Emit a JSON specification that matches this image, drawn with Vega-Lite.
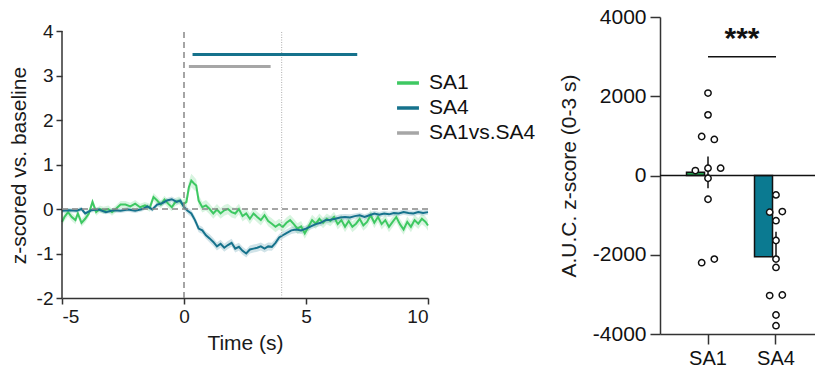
{
  "$schema": "https://vega.github.io/schema/vega-lite/v6.json",
  "background": "white",
  "padding": {"left": 8, "top": 6, "right": 0, "bottom": 0},
  "spacing": 126,
  "config": {
    "font": "Liberation Sans",
    "view": {"stroke": null},
    "axis": {
      "grid": false, "labelFont": "Liberation Sans", "titleFont": "Liberation Sans",
      "labelColor": "#1a1a1a", "titleColor": "#1a1a1a", "domainColor": "#333", "tickColor": "#333",
      "titleFontWeight": "normal", "domainWidth": 1.5, "tickWidth": 1.5,
      "labelExpr": "datum.value + ''"
    },
    "legend": {"labelFont": "Liberation Sans"}
  },
  "datasets": {
    "ts": [
      {"t": -5, "g": "SA1", "m": -0.29, "e": 0.09}, {"t": -4.9, "g": "SA1", "m": -0.18, "e": 0.09}, {"t": -4.75, "g": "SA1", "m": -0.07, "e": 0.09},
      {"t": -4.6, "g": "SA1", "m": -0.18, "e": 0.09}, {"t": -4.45, "g": "SA1", "m": -0.25, "e": 0.09}, {"t": -4.35, "g": "SA1", "m": -0.1, "e": 0.09},
      {"t": -4.2, "g": "SA1", "m": -0.31, "e": 0.09}, {"t": -4.05, "g": "SA1", "m": -0.22, "e": 0.09}, {"t": -3.9, "g": "SA1", "m": -0.1, "e": 0.08},
      {"t": -3.75, "g": "SA1", "m": 0.16, "e": 0.08}, {"t": -3.6, "g": "SA1", "m": -0.07, "e": 0.08}, {"t": -3.45, "g": "SA1", "m": 0.0, "e": 0.08},
      {"t": -3.3, "g": "SA1", "m": -0.03, "e": 0.08}, {"t": -3.1, "g": "SA1", "m": 0.0, "e": 0.08}, {"t": -2.95, "g": "SA1", "m": -0.07, "e": 0.08},
      {"t": -2.8, "g": "SA1", "m": 0.0, "e": 0.08}, {"t": -2.6, "g": "SA1", "m": 0.1, "e": 0.08}, {"t": -2.4, "g": "SA1", "m": 0.1, "e": 0.08},
      {"t": -2.2, "g": "SA1", "m": 0.06, "e": 0.08}, {"t": -2.0, "g": "SA1", "m": 0.12, "e": 0.08}, {"t": -1.8, "g": "SA1", "m": 0.04, "e": 0.08},
      {"t": -1.6, "g": "SA1", "m": 0.08, "e": 0.08}, {"t": -1.4, "g": "SA1", "m": 0.03, "e": 0.09}, {"t": -1.25, "g": "SA1", "m": 0.27, "e": 0.09},
      {"t": -1.1, "g": "SA1", "m": 0.19, "e": 0.09}, {"t": -0.95, "g": "SA1", "m": 0.1, "e": 0.09}, {"t": -0.8, "g": "SA1", "m": 0.21, "e": 0.09},
      {"t": -0.65, "g": "SA1", "m": 0.12, "e": 0.09}, {"t": -0.5, "g": "SA1", "m": 0.04, "e": 0.09}, {"t": -0.35, "g": "SA1", "m": 0.16, "e": 0.09},
      {"t": -0.2, "g": "SA1", "m": 0.19, "e": 0.09}, {"t": -0.05, "g": "SA1", "m": 0.1, "e": 0.1}, {"t": 0.1, "g": "SA1", "m": 0.16, "e": 0.12},
      {"t": 0.2, "g": "SA1", "m": 0.49, "e": 0.14}, {"t": 0.3, "g": "SA1", "m": 0.64, "e": 0.15}, {"t": 0.4, "g": "SA1", "m": 0.58, "e": 0.15},
      {"t": 0.5, "g": "SA1", "m": 0.53, "e": 0.14}, {"t": 0.6, "g": "SA1", "m": 0.19, "e": 0.13}, {"t": 0.75, "g": "SA1", "m": 0.04, "e": 0.12},
      {"t": 0.9, "g": "SA1", "m": 0.08, "e": 0.12}, {"t": 1.05, "g": "SA1", "m": 0.0, "e": 0.12}, {"t": 1.2, "g": "SA1", "m": -0.1, "e": 0.12},
      {"t": 1.35, "g": "SA1", "m": -0.01, "e": 0.12}, {"t": 1.5, "g": "SA1", "m": -0.1, "e": 0.12}, {"t": 1.65, "g": "SA1", "m": -0.03, "e": 0.12},
      {"t": 1.8, "g": "SA1", "m": 0.0, "e": 0.12}, {"t": 1.95, "g": "SA1", "m": -0.07, "e": 0.12}, {"t": 2.1, "g": "SA1", "m": -0.1, "e": 0.12},
      {"t": 2.25, "g": "SA1", "m": 0.0, "e": 0.12}, {"t": 2.4, "g": "SA1", "m": -0.16, "e": 0.12}, {"t": 2.55, "g": "SA1", "m": -0.1, "e": 0.12},
      {"t": 2.7, "g": "SA1", "m": -0.22, "e": 0.12}, {"t": 2.85, "g": "SA1", "m": -0.1, "e": 0.12}, {"t": 3.0, "g": "SA1", "m": -0.18, "e": 0.12},
      {"t": 3.15, "g": "SA1", "m": -0.25, "e": 0.12}, {"t": 3.3, "g": "SA1", "m": -0.14, "e": 0.12}, {"t": 3.45, "g": "SA1", "m": -0.27, "e": 0.12},
      {"t": 3.6, "g": "SA1", "m": -0.33, "e": 0.12}, {"t": 3.75, "g": "SA1", "m": -0.4, "e": 0.12}, {"t": 3.9, "g": "SA1", "m": -0.34, "e": 0.12},
      {"t": 4.05, "g": "SA1", "m": -0.4, "e": 0.12}, {"t": 4.2, "g": "SA1", "m": -0.31, "e": 0.12}, {"t": 4.35, "g": "SA1", "m": -0.25, "e": 0.12},
      {"t": 4.5, "g": "SA1", "m": -0.34, "e": 0.12}, {"t": 4.65, "g": "SA1", "m": -0.44, "e": 0.12}, {"t": 4.8, "g": "SA1", "m": -0.39, "e": 0.12},
      {"t": 4.95, "g": "SA1", "m": -0.55, "e": 0.12}, {"t": 5.1, "g": "SA1", "m": -0.4, "e": 0.12}, {"t": 5.25, "g": "SA1", "m": -0.25, "e": 0.12},
      {"t": 5.4, "g": "SA1", "m": -0.33, "e": 0.12}, {"t": 5.55, "g": "SA1", "m": -0.22, "e": 0.12}, {"t": 5.7, "g": "SA1", "m": -0.31, "e": 0.12},
      {"t": 5.85, "g": "SA1", "m": -0.22, "e": 0.12}, {"t": 6.0, "g": "SA1", "m": -0.27, "e": 0.12}, {"t": 6.15, "g": "SA1", "m": -0.18, "e": 0.12},
      {"t": 6.3, "g": "SA1", "m": -0.34, "e": 0.12}, {"t": 6.45, "g": "SA1", "m": -0.25, "e": 0.12}, {"t": 6.6, "g": "SA1", "m": -0.4, "e": 0.12},
      {"t": 6.75, "g": "SA1", "m": -0.27, "e": 0.12}, {"t": 6.9, "g": "SA1", "m": -0.4, "e": 0.12}, {"t": 7.05, "g": "SA1", "m": -0.33, "e": 0.12},
      {"t": 7.2, "g": "SA1", "m": -0.22, "e": 0.12}, {"t": 7.35, "g": "SA1", "m": -0.37, "e": 0.12}, {"t": 7.5, "g": "SA1", "m": -0.29, "e": 0.12},
      {"t": 7.65, "g": "SA1", "m": -0.14, "e": 0.12}, {"t": 7.8, "g": "SA1", "m": -0.31, "e": 0.12}, {"t": 7.95, "g": "SA1", "m": -0.18, "e": 0.12},
      {"t": 8.1, "g": "SA1", "m": -0.34, "e": 0.12}, {"t": 8.25, "g": "SA1", "m": -0.25, "e": 0.12}, {"t": 8.4, "g": "SA1", "m": -0.4, "e": 0.12},
      {"t": 8.55, "g": "SA1", "m": -0.29, "e": 0.12}, {"t": 8.7, "g": "SA1", "m": -0.18, "e": 0.12}, {"t": 8.85, "g": "SA1", "m": -0.34, "e": 0.12},
      {"t": 9.0, "g": "SA1", "m": -0.46, "e": 0.12}, {"t": 9.15, "g": "SA1", "m": -0.29, "e": 0.12}, {"t": 9.3, "g": "SA1", "m": -0.4, "e": 0.12},
      {"t": 9.45, "g": "SA1", "m": -0.25, "e": 0.12}, {"t": 9.6, "g": "SA1", "m": -0.33, "e": 0.12}, {"t": 9.75, "g": "SA1", "m": -0.22, "e": 0.12},
      {"t": 9.9, "g": "SA1", "m": -0.29, "e": 0.12}, {"t": 10, "g": "SA1", "m": -0.37, "e": 0.12},
      {"t": -5, "g": "SA4", "m": -0.04, "e": 0.05}, {"t": -4.7, "g": "SA4", "m": -0.03, "e": 0.05}, {"t": -4.4, "g": "SA4", "m": -0.04, "e": 0.05},
      {"t": -4.2, "g": "SA4", "m": 0.0, "e": 0.05}, {"t": -4.05, "g": "SA4", "m": -0.1, "e": 0.05}, {"t": -3.8, "g": "SA4", "m": -0.03, "e": 0.05},
      {"t": -3.5, "g": "SA4", "m": -0.01, "e": 0.05}, {"t": -3.2, "g": "SA4", "m": -0.07, "e": 0.05}, {"t": -2.9, "g": "SA4", "m": -0.03, "e": 0.05},
      {"t": -2.6, "g": "SA4", "m": -0.04, "e": 0.05}, {"t": -2.3, "g": "SA4", "m": -0.01, "e": 0.05}, {"t": -2.0, "g": "SA4", "m": -0.04, "e": 0.05},
      {"t": -1.7, "g": "SA4", "m": 0.0, "e": 0.05}, {"t": -1.5, "g": "SA4", "m": 0.06, "e": 0.05}, {"t": -1.3, "g": "SA4", "m": -0.01, "e": 0.05},
      {"t": -1.1, "g": "SA4", "m": 0.1, "e": 0.06}, {"t": -0.9, "g": "SA4", "m": 0.13, "e": 0.06}, {"t": -0.7, "g": "SA4", "m": 0.19, "e": 0.06},
      {"t": -0.5, "g": "SA4", "m": 0.22, "e": 0.06}, {"t": -0.3, "g": "SA4", "m": 0.16, "e": 0.06}, {"t": -0.15, "g": "SA4", "m": 0.19, "e": 0.06},
      {"t": 0.0, "g": "SA4", "m": 0.04, "e": 0.07}, {"t": 0.15, "g": "SA4", "m": -0.04, "e": 0.07}, {"t": 0.3, "g": "SA4", "m": -0.1, "e": 0.08},
      {"t": 0.45, "g": "SA4", "m": -0.25, "e": 0.08}, {"t": 0.6, "g": "SA4", "m": -0.44, "e": 0.08}, {"t": 0.75, "g": "SA4", "m": -0.48, "e": 0.08},
      {"t": 0.9, "g": "SA4", "m": -0.59, "e": 0.08}, {"t": 1.05, "g": "SA4", "m": -0.66, "e": 0.09}, {"t": 1.2, "g": "SA4", "m": -0.74, "e": 0.09},
      {"t": 1.35, "g": "SA4", "m": -0.84, "e": 0.09}, {"t": 1.5, "g": "SA4", "m": -0.78, "e": 0.09}, {"t": 1.65, "g": "SA4", "m": -0.87, "e": 0.09},
      {"t": 1.8, "g": "SA4", "m": -0.81, "e": 0.09}, {"t": 1.95, "g": "SA4", "m": -0.76, "e": 0.09}, {"t": 2.1, "g": "SA4", "m": -0.89, "e": 0.09},
      {"t": 2.25, "g": "SA4", "m": -0.85, "e": 0.09}, {"t": 2.4, "g": "SA4", "m": -0.94, "e": 0.09}, {"t": 2.55, "g": "SA4", "m": -1.0, "e": 0.09},
      {"t": 2.7, "g": "SA4", "m": -0.91, "e": 0.09}, {"t": 2.85, "g": "SA4", "m": -0.89, "e": 0.09}, {"t": 3.0, "g": "SA4", "m": -0.87, "e": 0.09},
      {"t": 3.15, "g": "SA4", "m": -0.84, "e": 0.09}, {"t": 3.3, "g": "SA4", "m": -0.89, "e": 0.09}, {"t": 3.45, "g": "SA4", "m": -0.84, "e": 0.09},
      {"t": 3.6, "g": "SA4", "m": -0.85, "e": 0.09}, {"t": 3.75, "g": "SA4", "m": -0.76, "e": 0.09}, {"t": 3.9, "g": "SA4", "m": -0.64, "e": 0.08},
      {"t": 4.05, "g": "SA4", "m": -0.59, "e": 0.08}, {"t": 4.2, "g": "SA4", "m": -0.54, "e": 0.08}, {"t": 4.4, "g": "SA4", "m": -0.48, "e": 0.08},
      {"t": 4.6, "g": "SA4", "m": -0.46, "e": 0.08}, {"t": 4.8, "g": "SA4", "m": -0.48, "e": 0.08}, {"t": 5.0, "g": "SA4", "m": -0.44, "e": 0.07},
      {"t": 5.2, "g": "SA4", "m": -0.39, "e": 0.07}, {"t": 5.4, "g": "SA4", "m": -0.34, "e": 0.07}, {"t": 5.6, "g": "SA4", "m": -0.31, "e": 0.07},
      {"t": 5.8, "g": "SA4", "m": -0.25, "e": 0.07}, {"t": 6.0, "g": "SA4", "m": -0.24, "e": 0.07}, {"t": 6.2, "g": "SA4", "m": -0.22, "e": 0.07},
      {"t": 6.4, "g": "SA4", "m": -0.19, "e": 0.07}, {"t": 6.6, "g": "SA4", "m": -0.18, "e": 0.07}, {"t": 6.8, "g": "SA4", "m": -0.19, "e": 0.07},
      {"t": 7.0, "g": "SA4", "m": -0.16, "e": 0.06}, {"t": 7.2, "g": "SA4", "m": -0.14, "e": 0.06}, {"t": 7.4, "g": "SA4", "m": -0.18, "e": 0.06},
      {"t": 7.6, "g": "SA4", "m": -0.14, "e": 0.06}, {"t": 7.8, "g": "SA4", "m": -0.1, "e": 0.06}, {"t": 8.0, "g": "SA4", "m": -0.13, "e": 0.06},
      {"t": 8.2, "g": "SA4", "m": -0.1, "e": 0.06}, {"t": 8.4, "g": "SA4", "m": -0.12, "e": 0.06}, {"t": 8.6, "g": "SA4", "m": -0.09, "e": 0.06},
      {"t": 8.8, "g": "SA4", "m": -0.1, "e": 0.06}, {"t": 9.0, "g": "SA4", "m": -0.07, "e": 0.06}, {"t": 9.2, "g": "SA4", "m": -0.09, "e": 0.06},
      {"t": 9.4, "g": "SA4", "m": -0.1, "e": 0.06}, {"t": 9.6, "g": "SA4", "m": -0.07, "e": 0.06}, {"t": 9.8, "g": "SA4", "m": -0.09, "e": 0.06},
      {"t": 10, "g": "SA4", "m": -0.07, "e": 0.06}
    ],
    "sig": [
      {"g": "SA4", "a": 0.35, "b": 7.1, "v": 3.47},
      {"g": "SA1vs.SA4", "a": 0.2, "b": 3.55, "v": 3.2}
    ],
    "bars": [
      {"g": "SA1", "m": 80, "lo": -320, "hi": 480},
      {"g": "SA4", "m": -2050, "lo": -2050, "hi": -1420}
    ],
    "pts": [
      {"g": "SA1", "j": 0, "v": 2080}, {"g": "SA1", "j": 0, "v": 1530}, {"g": "SA1", "j": -1, "v": 985}, {"g": "SA1", "j": 1, "v": 910},
      {"g": "SA1", "j": -2, "v": 125}, {"g": "SA1", "j": 0, "v": 185}, {"g": "SA1", "j": 2, "v": 185}, {"g": "SA1", "j": 0, "v": -70},
      {"g": "SA1", "j": 0, "v": -600}, {"g": "SA1", "j": -1, "v": -2200}, {"g": "SA1", "j": 1, "v": -2110},
      {"g": "SA4", "j": 0, "v": -490}, {"g": "SA4", "j": -1, "v": -925}, {"g": "SA4", "j": 1, "v": -910}, {"g": "SA4", "j": 0, "v": -1140},
      {"g": "SA4", "j": 0, "v": -1640}, {"g": "SA4", "j": 0, "v": -2110}, {"g": "SA4", "j": 0, "v": -2320}, {"g": "SA4", "j": -1, "v": -3030},
      {"g": "SA4", "j": 1, "v": -3015}, {"g": "SA4", "j": 0, "v": -3520}, {"g": "SA4", "j": 0, "v": -3790}
    ]
  },
  "hconcat": [
    {
      "width": 366,
      "height": 281,
      "layer": [
        {
          "data": {"name": "ts"},
          "transform": [{"filter": "datum.g == 'SA1'"}],
          "mark": {"type": "errorband", "opacity": 0.2, "color": "#3ec862"},
          "encoding": {
            "x": {"field": "t", "type": "quantitative", "scale": {"domain": [-5, 10], "nice": false},
                  "axis": {"values": [-5, 0, 5, 10], "title": "Time (s)", "labelFontSize": 19, "titleFontSize": 21, "tickSize": 6, "labelPadding": 3, "titlePadding": 6}},
            "y": {"field": "m", "type": "quantitative", "title": "z-scored vs. baseline", "scale": {"domain": [-2, 4.315], "nice": false, "zero": false},
                  "axis": {"values": [-2, -1, 0, 1, 2, 3, 4], "domain": false, "labelFontSize": 19, "titleFontSize": 21, "tickSize": 6, "labelPadding": 3, "titlePadding": 7, "titleY": 148}},
            "yError": {"field": "e"}
          }
        },
        {
          "data": {"name": "ts"},
          "transform": [{"filter": "datum.g == 'SA4'"}],
          "mark": {"type": "errorband", "opacity": 0.2, "color": "#16728c"},
          "encoding": {
            "x": {"field": "t", "type": "quantitative", "title": "Time (s)"},
            "y": {"field": "m", "type": "quantitative", "title": "z-scored vs. baseline"},
            "yError": {"field": "e"}
          }
        },
        {
          "data": {"name": "ts"},
          "mark": {"type": "line", "strokeWidth": 2},
          "encoding": {
            "x": {"field": "t", "type": "quantitative", "title": "Time (s)"},
            "y": {"field": "m", "type": "quantitative", "title": "z-scored vs. baseline"},
            "color": {"field": "g", "type": "nominal",
                      "scale": {"domain": ["SA1", "SA4", "SA1vs.SA4"], "range": ["#3ec862", "#16728c", "#a6a6a6"]},
                      "legend": {"title": null, "orient": "none", "legendX": 333, "legendY": 53, "symbolType": "stroke", "symbolStrokeWidth": 3.5, "symbolSize": 480, "symbolOpacity": 1, "labelFontSize": 21, "labelColor": "#111", "rowPadding": 2, "labelOffset": 8, "padding": 0}}
          }
        },
        {
          "data": {"values": [{"t": -5, "lo": -2, "hi": 4}]},
          "mark": {"type": "rule", "color": "#333", "strokeWidth": 1.5},
          "encoding": {"x": {"field": "t", "type": "quantitative", "title": "Time (s)"}, "y": {"field": "lo", "type": "quantitative", "title": "z-scored vs. baseline"}, "y2": {"field": "hi"}}
        },
        {
          "data": {"values": [{"t": 0, "lo": -2, "hi": 4}]},
          "mark": {"type": "rule", "color": "#888", "strokeWidth": 1.5, "strokeDash": [6, 4]},
          "encoding": {"x": {"field": "t", "type": "quantitative", "title": "Time (s)"}, "y": {"field": "lo", "type": "quantitative", "title": "z-scored vs. baseline"}, "y2": {"field": "hi"}}
        },
        {
          "data": {"values": [{"t": 4, "lo": -2, "hi": 4}]},
          "mark": {"type": "rule", "color": "#bbb", "strokeWidth": 1.2, "strokeDash": [1, 1.5]},
          "encoding": {"x": {"field": "t", "type": "quantitative", "title": "Time (s)"}, "y": {"field": "lo", "type": "quantitative", "title": "z-scored vs. baseline"}, "y2": {"field": "hi"}}
        },
        {
          "data": {"values": [{"z": 0}]},
          "mark": {"type": "rule", "color": "#888", "strokeWidth": 1.5, "strokeDash": [6, 4]},
          "encoding": {"y": {"field": "z", "type": "quantitative", "title": "z-scored vs. baseline"}}
        },
        {
          "data": {"name": "sig"},
          "mark": {"type": "rule", "strokeWidth": 3},
          "encoding": {
            "x": {"field": "a", "type": "quantitative", "title": "Time (s)"},
            "x2": {"field": "b"},
            "y": {"field": "v", "type": "quantitative", "title": "z-scored vs. baseline"},
            "color": {"field": "g", "type": "nominal"}
          }
        }
      ]
    },
    {
      "width": 164,
      "height": 317,
      "layer": [
        {
          "data": {"name": "bars"},
          "mark": {"type": "bar", "stroke": "#111", "strokeWidth": 1.5},
          "encoding": {
            "x": {"field": "g", "type": "nominal", "title": null, "scale": {"paddingInner": 0.368, "paddingOuter": 0.39},
                  "axis": {"labelAngle": 0, "labelFontSize": 20, "tickSize": 10, "labelPadding": 4, "labelColor": "#111", "labelExpr": "datum.label"}},
            "y": {"field": "m", "type": "quantitative", "title": "A.U.C. z-score (0-3 s)", "scale": {"domain": [-4000, 4000], "nice": false},
                  "axis": {"values": [-4000, -2000, 0, 2000, 4000], "labelFontSize": 21, "titleFontSize": 21, "tickSize": 10, "labelPadding": 4, "titlePadding": 13, "labelColor": "#111"}},
            "fill": {"field": "g", "type": "nominal", "scale": {"domain": ["SA1", "SA4"], "range": ["#22a24e", "#0b7a91"]}, "legend": null}
          }
        },
        {
          "data": {"name": "bars"},
          "mark": {"type": "rule", "color": "#111", "strokeWidth": 1.5},
          "encoding": {
            "x": {"field": "g", "type": "nominal", "title": null},
            "y": {"field": "lo", "type": "quantitative", "title": "A.U.C. z-score (0-3 s)"},
            "y2": {"field": "hi"}
          }
        },
        {
          "data": {"values": [{"z": 0}]},
          "mark": {"type": "rule", "color": "#111", "strokeWidth": 1.5},
          "encoding": {"y": {"field": "z", "type": "quantitative", "title": "A.U.C. z-score (0-3 s)"}}
        },
        {
          "data": {"name": "pts"},
          "mark": {"type": "point", "shape": "circle", "filled": true, "fill": "white", "stroke": "#111", "strokeWidth": 1.5, "size": 40, "opacity": 1},
          "encoding": {
            "x": {"field": "g", "type": "nominal", "title": null},
            "xOffset": {"field": "j", "type": "quantitative", "scale": {"domain": [-3.4, 3.4]}},
            "y": {"field": "v", "type": "quantitative", "title": "A.U.C. z-score (0-3 s)"}
          }
        },
        {
          "data": {"values": [{"a": "SA1", "b": "SA4", "v": 3000}]},
          "mark": {"type": "rule", "color": "#111", "strokeWidth": 1.5},
          "encoding": {
            "x": {"field": "a", "type": "nominal", "title": null},
            "x2": {"field": "b"},
            "y": {"field": "v", "type": "quantitative", "title": "A.U.C. z-score (0-3 s)"}
          }
        },
        {
          "data": {"values": [{"a": "SA1", "v": 3450, "s": "***"}]},
          "mark": {"type": "text", "fontSize": 30, "fontWeight": "bold", "color": "#111", "dx": 34, "baseline": "middle", "dy": 0},
          "encoding": {
            "x": {"field": "a", "type": "nominal", "title": null},
            "y": {"field": "v", "type": "quantitative", "title": "A.U.C. z-score (0-3 s)"},
            "text": {"field": "s"}
          }
        }
      ]
    }
  ]
}
